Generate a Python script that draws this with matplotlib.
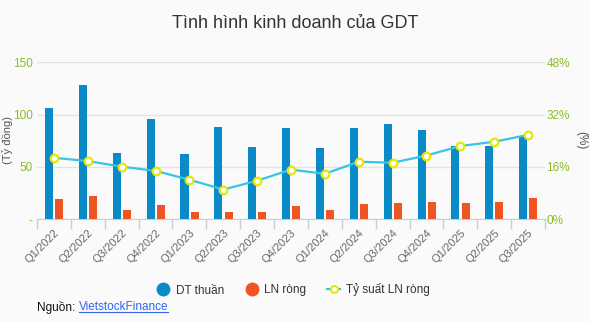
import matplotlib.pyplot as plt
from matplotlib.lines import Line2D
import numpy as np

quarters = ['Q1/2022', 'Q2/2022', 'Q3/2022', 'Q4/2022', 'Q1/2023', 'Q2/2023', 'Q3/2023', 'Q4/2023',
            'Q1/2024', 'Q2/2024', 'Q3/2024', 'Q4/2024', 'Q1/2025', 'Q2/2025', 'Q3/2025']
dt_thuan = [106.3, 128.3, 63.3, 95.8, 62.4, 88.2, 69.0, 87.2, 68.4, 87.2, 91.0, 85.3, 70.0, 70.0, 79.6]
ln_rong = [19.4, 22.5, 8.9, 14.0, 7.0, 7.0, 7.0, 13.0, 8.9, 15.0, 15.6, 16.5, 15.6, 16.5, 20.3]
ty_suat = [18.8, 17.8, 16.1, 14.8, 12.1, 9.1, 11.8, 15.2, 13.9, 17.6, 17.3, 19.5, 22.4, 23.7, 25.8]

blue = '#0A8AC6'
orange = '#EE5522'
cyan = '#33C6E6'
yellow = '#E6E600'
green = '#8DBB2A'
bg = '#FAFAFA'

plt.rcParams['font.family'] = ['Liberation Sans', 'DejaVu Sans']

fig = plt.figure(figsize=(5.9, 3.22), dpi=100, facecolor=bg)
ax = fig.add_axes([37 / 590, 1 - 219.3 / 322, 508 / 590, 157 / 322])
ax.set_facecolor(bg)
x = np.arange(len(quarters))

ax.bar(x - 0.145, dt_thuan, width=0.237, color=blue, zorder=3)
ax.bar(x + 0.155, ln_rong, width=0.237, color=orange, zorder=3)
ax.set_xlim(-0.5, len(quarters) - 0.5)
ax.set_ylim(0, 150)
ax.set_yticks([0, 50, 100, 150])
ax.set_yticklabels(['-', '50', '100', '150'])
ax.grid(axis='y', color='#E3E3E3', linewidth=1, zorder=0)
ax.tick_params(axis='y', length=0, labelsize=8.5, labelcolor=green, pad=3)
for s in ['top', 'right', 'left']:
    ax.spines[s].set_visible(False)
ax.spines['bottom'].set_color('#C0D0E0')
ax.set_xticks(x)
ax.set_xticklabels(quarters, rotation=45, ha='right', rotation_mode='anchor', fontsize=8, color='#666666')
ax.tick_params(axis='x', which='major', length=0, pad=6)
ax.set_xticks(np.arange(-0.5, len(quarters), 1), minor=True)
ax.tick_params(axis='x', which='minor', length=7, color='#C0D0E0', width=1)

ax2 = ax.twinx()
ax2.plot(x, ty_suat, color=cyan, linewidth=1.6, marker='o', markersize=5.5,
         markerfacecolor='white', markeredgecolor=yellow, markeredgewidth=1.6, zorder=4)
ax2.set_ylim(0, 48)
ax2.set_yticks([0, 16, 32, 48])
ax2.set_yticklabels(['0%', '16%', '32%', '48%'])
ax2.tick_params(axis='y', length=0, labelsize=8.5, labelcolor=green, pad=1)
for s in ax2.spines.values():
    s.set_visible(False)

fig.text(0.5, 1 - 23 / 322, 'Tình hình kinh doanh của GDT', ha='center', va='center',
         fontsize=13, color='#333333')
fig.text(8 / 590, 1 - 140 / 322, '(Tỷ đồng)', rotation=90, ha='center', va='center',
         fontsize=8, color='#555555')
fig.text(581 / 590, 1 - 140 / 322, '(%)', rotation=270, ha='center', va='center',
         fontsize=8.5, color='#555555')

handles = [
    Line2D([], [], linestyle='none', marker='o', markersize=9, color=blue),
    Line2D([], [], linestyle='none', marker='o', markersize=9, color=orange),
    Line2D([], [], color=cyan, linewidth=1.6, marker='o', markersize=5,
           markerfacecolor='white', markeredgecolor=yellow, markeredgewidth=1.4),
]
fig.legend(handles, ['DT thuần', 'LN ròng', 'Tỷ suất LN ròng'], loc='center',
           bbox_to_anchor=(0.497, 1 - 290 / 322), ncol=3, frameon=False, fontsize=8.5,
           handlelength=1.1, handletextpad=0.5, columnspacing=1.8,
           labelcolor='#333333')

t1 = fig.text(37 / 590, 1 - 307 / 322, 'Nguồn: ', ha='left', va='center', fontsize=8.5, color='#111111')
fig.canvas.draw()
r = fig.canvas.get_renderer()
bb = t1.get_window_extent(r)
t2 = fig.text(bb.x1 / fig.bbox.width, 1 - 307 / 322, 'VietstockFinance', ha='left', va='center',
              fontsize=8.5, color='#3366EE')
bb2 = t2.get_window_extent(r)
fig.add_artist(Line2D([bb2.x0 / fig.bbox.width, bb2.x1 / fig.bbox.width],
                      [(bb2.y0 + 1) / fig.bbox.height] * 2, color='#3366EE', linewidth=0.8))

fig.savefig('out.png', dpi=100, facecolor=bg)
